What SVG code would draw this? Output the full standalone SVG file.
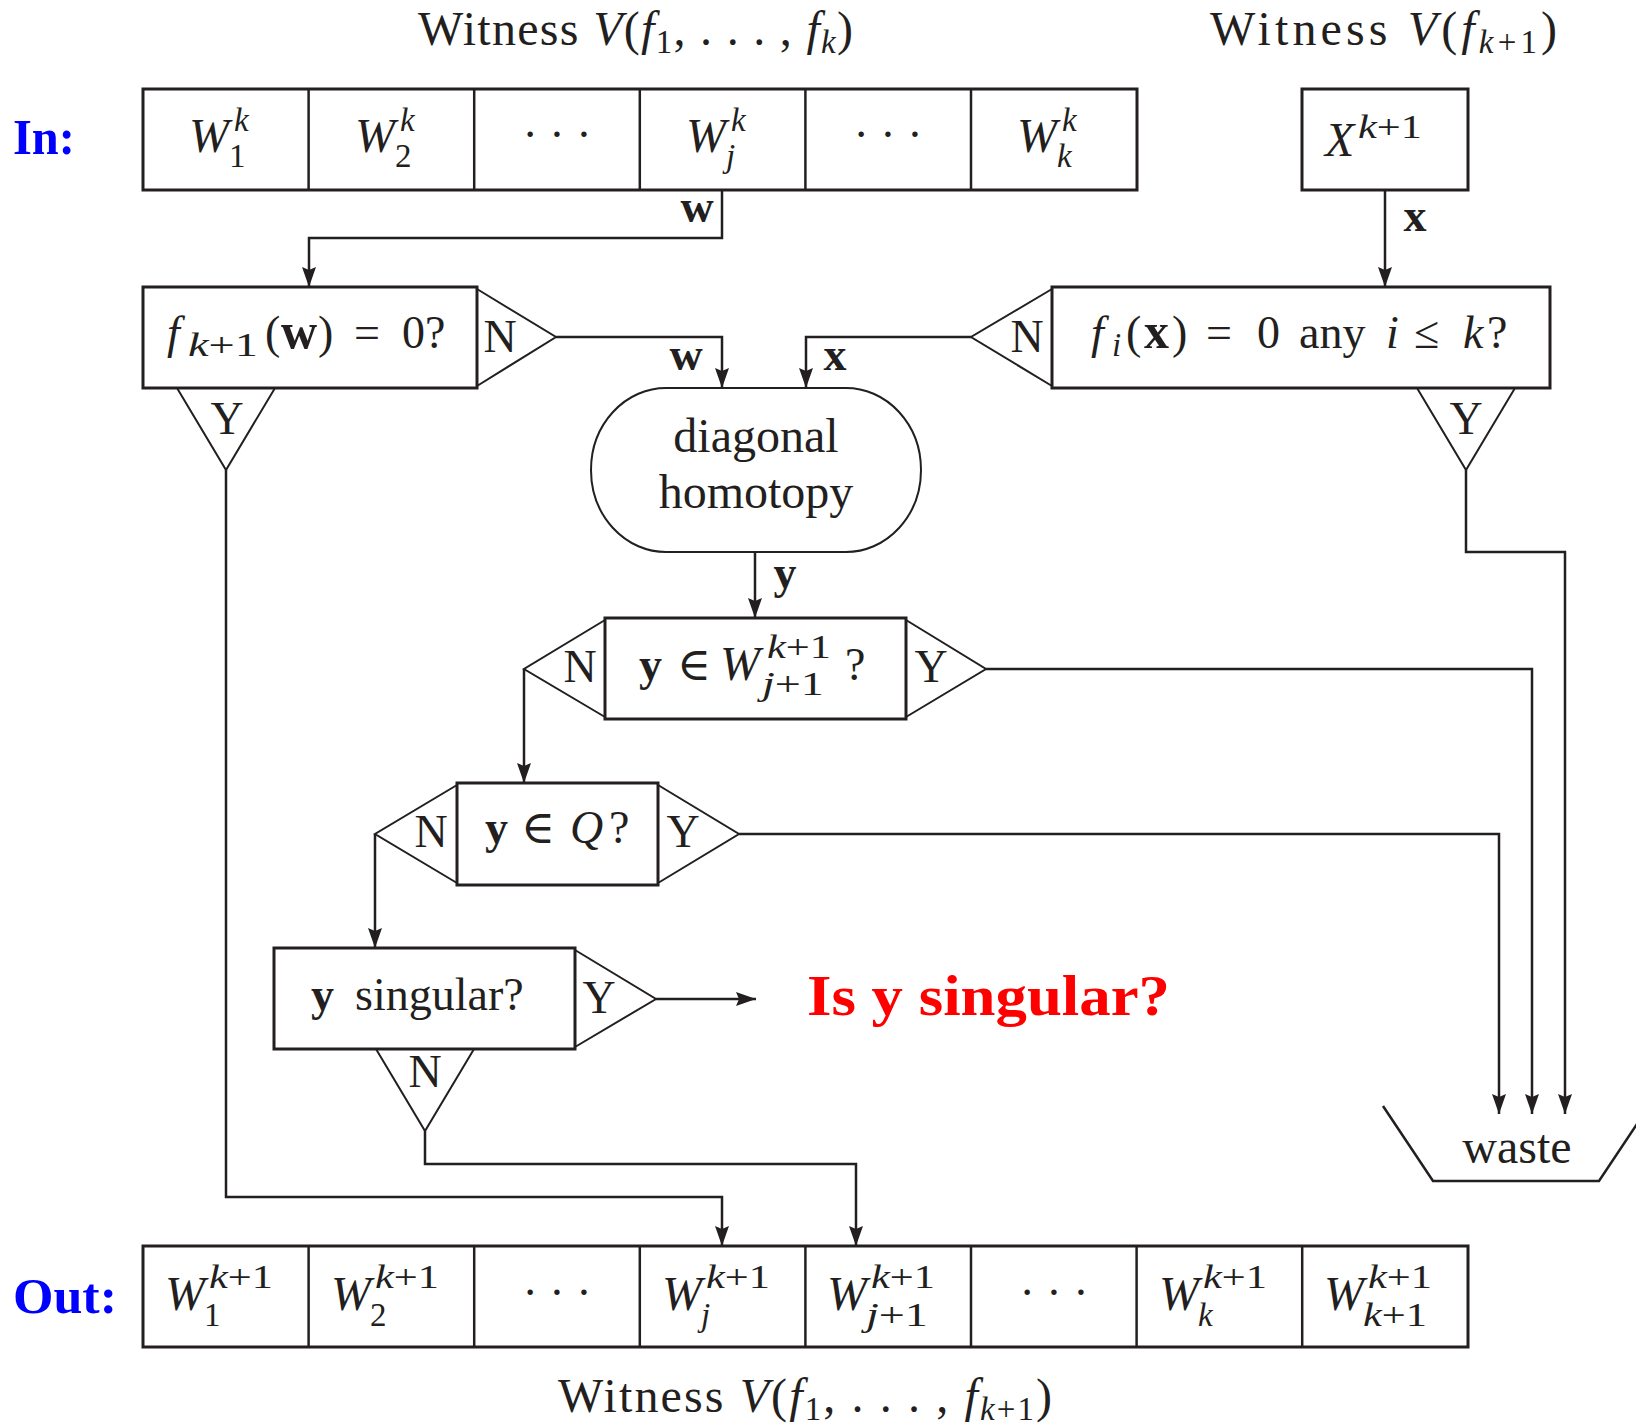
<svg xmlns="http://www.w3.org/2000/svg" width="1636" height="1424" viewBox="0 0 1636 1424">
<defs>
<style>
text{font-family:"Liberation Serif","DejaVu Serif",serif;fill:#231f20;font-size:46px}
.i{font-style:italic}
.b{font-weight:bold}
.s{font-size:33px}
.c{text-anchor:middle}
.w{font-size:48px;font-style:italic}
.t{font-size:48px}
.box{fill:#fff;stroke:#231f20;stroke-width:3}
.tri{fill:none;stroke:#231f20;stroke-width:2}
.div{stroke:#231f20;stroke-width:2.5}
.conn{fill:none;stroke:#231f20;stroke-width:2.5}
</style>
<marker id="ah" markerUnits="userSpaceOnUse" markerWidth="20" markerHeight="14" refX="20" refY="7" orient="auto">
<path d="M0,0 L20,7 L0,14 L3,7 z" fill="#231f20"/>
</marker>
</defs>
<rect width="1636" height="1424" fill="#fff"/>

<g id="titles">
<text class="t" x="418" y="45" textLength="435" lengthAdjust="spacing">Witness <tspan class="i">V</tspan>(<tspan class="i">f</tspan><tspan class="s" dy="8">1</tspan><tspan dy="-8">, . . . , </tspan><tspan class="i">f</tspan><tspan class="s i" dy="8">k</tspan><tspan dy="-8">)</tspan></text>
<text class="t" x="1210" y="45" textLength="347" lengthAdjust="spacing">Witness <tspan class="i">V</tspan>(<tspan class="i">f</tspan><tspan class="s" dy="8"><tspan class="i">k</tspan>+1</tspan><tspan dy="-8">)</tspan></text>
<text class="t" x="558" y="1412" textLength="494" lengthAdjust="spacing">Witness <tspan class="i">V</tspan>(<tspan class="i">f</tspan><tspan class="s" dy="8">1</tspan><tspan dy="-8">, . . . , </tspan><tspan class="i">f</tspan><tspan class="s" dy="8"><tspan class="i">k</tspan>+1</tspan><tspan dy="-8">)</tspan></text>
<text x="13" y="154" class="b" style="fill:#0000ff;font-size:50px" textLength="62" lengthAdjust="spacingAndGlyphs">In:</text>
<text x="13" y="1313" class="b" style="fill:#0000ff;font-size:50px" textLength="104" lengthAdjust="spacingAndGlyphs">Out:</text>
</g>

<g id="connectors">
<path class="conn" d="M722,190 V238 H309 V287" marker-end="url(#ah)"/>
<path class="conn" d="M1385,190 V287" marker-end="url(#ah)"/>
<path class="conn" d="M556,337 H722 V388" marker-end="url(#ah)"/>
<path class="conn" d="M971,337 H806 V388" marker-end="url(#ah)"/>
<path class="conn" d="M755,552 V618" marker-end="url(#ah)"/>
<path class="conn" d="M524,669 V783" marker-end="url(#ah)"/>
<path class="conn" d="M986,669 H1532 V1114" marker-end="url(#ah)"/>
<path class="conn" d="M375,834 V948" marker-end="url(#ah)"/>
<path class="conn" d="M739,834 H1499 V1114" marker-end="url(#ah)"/>
<path class="conn" d="M656,999 H756" marker-end="url(#ah)"/>
<path class="conn" d="M1466,470 V552 H1565 V1114" marker-end="url(#ah)"/>
<path class="conn" d="M226,470 V1197 H722 V1246" marker-end="url(#ah)"/>
<path class="conn" d="M425,1131 V1164 H856 V1246" marker-end="url(#ah)"/>
<text class="b c" x="697" y="222">w</text>
<text class="b c" x="1415" y="231">x</text>
<text class="b c" x="686" y="370">w</text>
<text class="b c" x="835" y="370">x</text>
<text class="b c" x="785" y="588">y</text>
</g>

<g id="in-row">
<rect class="box" x="143" y="89" width="994" height="101"/>
<line class="div" x1="308.6" y1="89" x2="308.6" y2="190"/>
<line class="div" x1="474.2" y1="89" x2="474.2" y2="190"/>
<line class="div" x1="639.8" y1="89" x2="639.8" y2="190"/>
<line class="div" x1="805.4" y1="89" x2="805.4" y2="190"/>
<line class="div" x1="971" y1="89" x2="971" y2="190"/>
<text class="w" x="189" y="152">W</text><text class="s i" x="234" y="131">k</text><text class="s" x="229" y="167">1</text>
<text class="w" x="355" y="152">W</text><text class="s i" x="400" y="131">k</text><text class="s" x="395" y="167">2</text>
<text class="c" x="557" y="150">· · ·</text>
<text class="w" x="686" y="152">W</text><text class="s i" x="731" y="131">k</text><text class="s i" x="726" y="167">j</text>
<text class="c" x="888" y="150">· · ·</text>
<text class="w" x="1017" y="152">W</text><text class="s i" x="1062" y="131">k</text><text class="s i" x="1057" y="167">k</text>
</g>

<g id="x-box">
<rect class="box" x="1302" y="89" width="166" height="101"/>
<text class="w" x="1325" y="156">X</text><text class="s" x="1358" y="138" textLength="64" lengthAdjust="spacingAndGlyphs"><tspan class="i">k</tspan>+1</text>
</g>

<g id="test-fk1">
<polyline class="tri" points="477,289 556,337 477,386"/>
<polyline class="tri" points="177,388 226,470 275,388"/>
<rect class="box" x="143" y="287" width="334" height="101"/>
<text x="167" y="348"><tspan class="i">f</tspan><tspan class="s" x="188" dy="8" textLength="70" lengthAdjust="spacingAndGlyphs"><tspan class="i">k</tspan>+1</tspan><tspan x="265" dy="-8">(</tspan><tspan class="b" x="281" style="font-size:50px">w</tspan><tspan x="318">)</tspan><tspan x="354">=</tspan><tspan x="402">0?</tspan></text>
<text class="c" x="500" y="352">N</text>
<text class="c" x="227" y="434">Y</text>
</g>

<g id="test-fi">
<polyline class="tri" points="1052,289 971,337 1052,386"/>
<polyline class="tri" points="1417,388 1466,470 1515,388"/>
<rect class="box" x="1052" y="287" width="498" height="101"/>
<text x="1091" y="348"><tspan class="i">f</tspan><tspan class="s i" x="1112" dy="8">i</tspan><tspan x="1126" dy="-8">(</tspan><tspan class="b" x="1144" style="font-size:50px">x</tspan><tspan x="1172">)</tspan><tspan x="1206">=</tspan><tspan x="1257">0</tspan><tspan x="1299">any</tspan><tspan class="i" x="1386">i</tspan><tspan x="1414">≤</tspan><tspan class="i" x="1463">k</tspan><tspan x="1487">?</tspan></text>
<text class="c" x="1027" y="352">N</text>
<text class="c" x="1466" y="434">Y</text>
</g>

<g id="homotopy">
<rect x="591" y="388" width="330" height="164" rx="75" ry="82" fill="#fff" stroke="#231f20" stroke-width="2"/>
<text class="c t" x="756" y="452">diagonal</text>
<text class="c t" x="756" y="508">homotopy</text>
</g>

<g id="test-member">
<polyline class="tri" points="605,620 524,669 605,717"/>
<polyline class="tri" points="906,620 986,669 906,717"/>
<rect class="box" x="605" y="618" width="301" height="101"/>
<text x="639" y="680"><tspan class="b">y</tspan><tspan x="677">∈</tspan><tspan class="i" x="720" style="font-size:48px">W</tspan></text>
<text class="s" x="767" y="658" textLength="64" lengthAdjust="spacingAndGlyphs"><tspan class="i">k</tspan>+1</text>
<text class="s" x="762" y="695" textLength="62" lengthAdjust="spacingAndGlyphs"><tspan class="i">j</tspan>+1</text>
<text x="845" y="680">?</text>
<text class="c" x="580" y="682">N</text>
<text class="c" x="931" y="682">Y</text>
</g>

<g id="test-q">
<polyline class="tri" points="457,785 375,834 457,883"/>
<polyline class="tri" points="658,785 739,834 658,883"/>
<rect class="box" x="457" y="783" width="201" height="102"/>
<text x="485" y="843"><tspan class="b">y</tspan><tspan x="521">∈</tspan><tspan class="i" x="570">Q</tspan><tspan x="609">?</tspan></text>
<text class="c" x="431" y="847">N</text>
<text class="c" x="683" y="847">Y</text>
</g>

<g id="test-singular">
<polyline class="tri" points="575,950 656,999 575,1047"/>
<polyline class="tri" points="376,1049 425,1131 474,1049"/>
<rect class="box" x="274" y="948" width="301" height="101"/>
<text x="311" y="1010"><tspan class="b">y</tspan><tspan x="355">singular?</tspan></text>
<text class="c" x="599" y="1013">Y</text>
<text class="c" x="425" y="1087">N</text>
</g>

<g id="singular-note">
<text x="807" y="1015" class="b" style="fill:#ff0000;font-size:56px" textLength="363" lengthAdjust="spacingAndGlyphs">Is y singular?</text>
</g>

<g id="waste">
<polyline points="1383,1106 1433,1181 1599,1181 1649,1106" fill="none" stroke="#231f20" stroke-width="2.5"/>
<text class="c t" x="1517" y="1163">waste</text>
</g>

<g id="out-row">
<rect class="box" x="143" y="1246" width="1325" height="101"/>
<line class="div" x1="308.6" y1="1246" x2="308.6" y2="1347"/>
<line class="div" x1="474.2" y1="1246" x2="474.2" y2="1347"/>
<line class="div" x1="639.8" y1="1246" x2="639.8" y2="1347"/>
<line class="div" x1="805.4" y1="1246" x2="805.4" y2="1347"/>
<line class="div" x1="971" y1="1246" x2="971" y2="1347"/>
<line class="div" x1="1136.6" y1="1246" x2="1136.6" y2="1347"/>
<line class="div" x1="1302.2" y1="1246" x2="1302.2" y2="1347"/>
<text class="w" x="165" y="1310">W</text><text class="s" x="209" y="1288" textLength="64" lengthAdjust="spacingAndGlyphs"><tspan class="i">k</tspan>+1</text><text class="s" x="204" y="1326">1</text>
<text class="w" x="331" y="1310">W</text><text class="s" x="375" y="1288" textLength="64" lengthAdjust="spacingAndGlyphs"><tspan class="i">k</tspan>+1</text><text class="s" x="370" y="1326">2</text>
<text class="c" x="557" y="1308">· · ·</text>
<text class="w" x="662" y="1310">W</text><text class="s" x="706" y="1288" textLength="64" lengthAdjust="spacingAndGlyphs"><tspan class="i">k</tspan>+1</text><text class="s i" x="701" y="1326">j</text>
<text class="w" x="827" y="1310">W</text><text class="s" x="871" y="1288" textLength="64" lengthAdjust="spacingAndGlyphs"><tspan class="i">k</tspan>+1</text><text class="s" x="866" y="1326" textLength="62" lengthAdjust="spacingAndGlyphs"><tspan class="i">j</tspan>+1</text>
<text class="c" x="1054" y="1308">· · ·</text>
<text class="w" x="1159" y="1310">W</text><text class="s" x="1203" y="1288" textLength="64" lengthAdjust="spacingAndGlyphs"><tspan class="i">k</tspan>+1</text><text class="s i" x="1198" y="1326">k</text>
<text class="w" x="1324" y="1310">W</text><text class="s" x="1368" y="1288" textLength="64" lengthAdjust="spacingAndGlyphs"><tspan class="i">k</tspan>+1</text><text class="s" x="1363" y="1326" textLength="64" lengthAdjust="spacingAndGlyphs"><tspan class="i">k</tspan>+1</text>
</g>
</svg>
